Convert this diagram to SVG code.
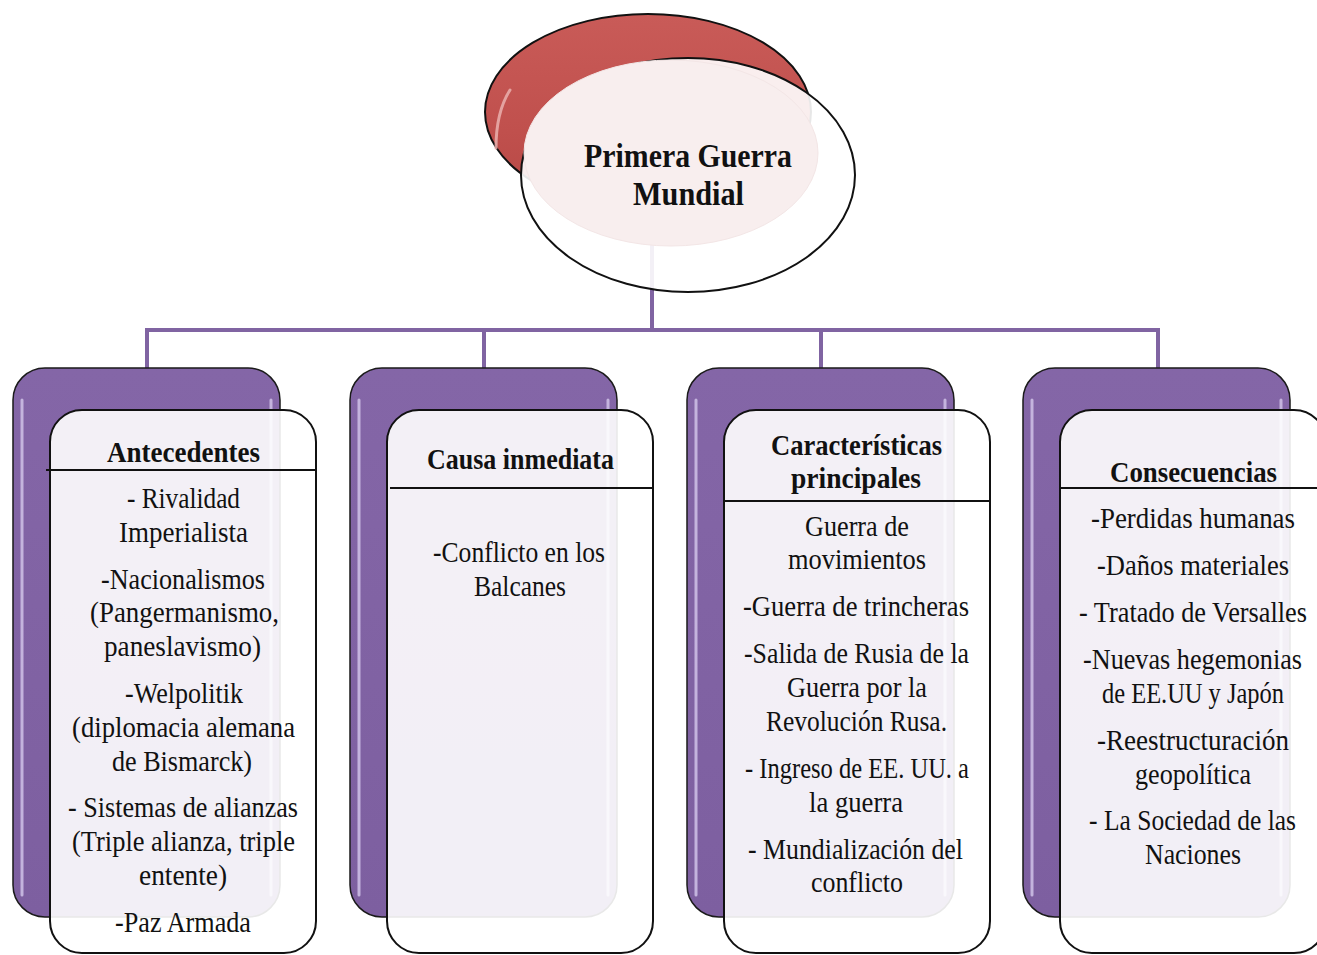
<svg xmlns="http://www.w3.org/2000/svg" width="1317" height="955" viewBox="0 0 1317 955">
<defs>
<linearGradient id="redg" x1="0" y1="0" x2="0" y2="1">
<stop offset="0" stop-color="#c95b58"/>
<stop offset="0.6" stop-color="#c0504d"/>
<stop offset="1" stop-color="#b54744"/>
</linearGradient>
<linearGradient id="purg" x1="0" y1="0" x2="0" y2="1">
<stop offset="0" stop-color="#8466a7"/>
<stop offset="1" stop-color="#7d5fa0"/>
</linearGradient>
<style>
.pur{fill:url(#purg);stroke:#1a1a1a;stroke-width:1.5}
.hl{stroke:#cbbde3;stroke-width:3;stroke-linecap:round;fill:none;opacity:0.9}
.wb{fill:#ffffff;fill-opacity:0.9;stroke:#111;stroke-width:2}
.div{stroke:#111;stroke-width:2}
.con{stroke:#8064a2;stroke-width:4;fill:none}
.t{font-family:"Liberation Serif","DejaVu Serif",serif;font-size:30px;fill:#111}
.h{font-family:"Liberation Serif","DejaVu Serif",serif;font-size:30px;font-weight:bold;fill:#111}
.ttl{font-family:"Liberation Serif","DejaVu Serif",serif;font-size:33px;font-weight:bold;fill:#111}
</style>
</defs>
<rect width="1317" height="955" fill="#ffffff"/>

<g id="root">
<ellipse cx="648" cy="112" rx="163" ry="98" fill="url(#redg)" stroke="#111" stroke-width="2"/>
<path d="M496,148 Q496,112 510,90" stroke="#eab0ae" stroke-width="3" fill="none" stroke-linecap="round" opacity="0.85"/>
</g>

<g id="connectors">
<line class="con" x1="652" y1="200" x2="652" y2="330"/>
<line class="con" x1="145" y1="330" x2="1160" y2="330"/>
<line class="con" x1="147" y1="328" x2="147" y2="369"/>
<line class="con" x1="484" y1="328" x2="484" y2="369"/>
<line class="con" x1="821" y1="328" x2="821" y2="369"/>
<line class="con" x1="1158" y1="328" x2="1158" y2="369"/>
</g>

<g id="title">
<ellipse cx="688" cy="175" rx="167" ry="117" fill="#ffffff" fill-opacity="0.9" stroke="#111" stroke-width="2"/>
<ellipse cx="671" cy="153" rx="147" ry="93" fill="#f8eeee" stroke="#f3e6e6" stroke-width="1"/>
<text class="ttl" x="584" y="167" textLength="208" lengthAdjust="spacingAndGlyphs">Primera Guerra</text>
<text class="ttl" x="633" y="205" textLength="111" lengthAdjust="spacingAndGlyphs">Mundial</text>
</g>

<g id="antecedentes">
<rect class="pur" x="13" y="368" width="267" height="549" rx="32"/>
<line class="hl" x1="22" y1="400" x2="22" y2="895"/>
<line class="hl" x1="271" y1="400" x2="271" y2="895"/>
<rect class="wb" x="50" y="410" width="266" height="543" rx="32"/>
<line class="div" x1="46" y1="470" x2="316" y2="470"/>
<text class="h" x="107" y="462" textLength="153" lengthAdjust="spacingAndGlyphs">Antecedentes</text>
<text class="t" x="127" y="508" textLength="113" lengthAdjust="spacingAndGlyphs">- Rivalidad</text>
<text class="t" x="119" y="542" textLength="129" lengthAdjust="spacingAndGlyphs">Imperialista</text>
<text class="t" x="101" y="589" textLength="164" lengthAdjust="spacingAndGlyphs">-Nacionalismos</text>
<text class="t" x="90" y="622" textLength="189" lengthAdjust="spacingAndGlyphs">(Pangermanismo,</text>
<text class="t" x="104" y="656" textLength="157" lengthAdjust="spacingAndGlyphs">paneslavismo)</text>
<text class="t" x="125" y="703" textLength="118" lengthAdjust="spacingAndGlyphs">-Welpolitik</text>
<text class="t" x="72" y="737" textLength="223" lengthAdjust="spacingAndGlyphs">(diplomacia alemana</text>
<text class="t" x="112" y="771" textLength="140" lengthAdjust="spacingAndGlyphs">de Bismarck)</text>
<text class="t" x="68" y="817" textLength="230" lengthAdjust="spacingAndGlyphs">- Sistemas de alianzas</text>
<text class="t" x="72" y="851" textLength="223" lengthAdjust="spacingAndGlyphs">(Triple alianza, triple</text>
<text class="t" x="139" y="885" textLength="88" lengthAdjust="spacingAndGlyphs">entente)</text>
<text class="t" x="115" y="932" textLength="136" lengthAdjust="spacingAndGlyphs">-Paz Armada</text>
</g>

<g id="causa">
<rect class="pur" x="350" y="368" width="267" height="549" rx="32"/>
<line class="hl" x1="359" y1="400" x2="359" y2="895"/>
<line class="hl" x1="608" y1="400" x2="608" y2="895"/>
<rect class="wb" x="387" y="410" width="266" height="543" rx="32"/>
<line class="div" x1="390" y1="488" x2="653" y2="488"/>
<text class="h" x="427" y="469" textLength="187" lengthAdjust="spacingAndGlyphs">Causa inmediata</text>
<text class="t" x="433" y="562" textLength="172" lengthAdjust="spacingAndGlyphs">-Conflicto en los</text>
<text class="t" x="474" y="596" textLength="92" lengthAdjust="spacingAndGlyphs">Balcanes</text>
</g>

<g id="caracteristicas">
<rect class="pur" x="687" y="368" width="267" height="549" rx="32"/>
<line class="hl" x1="696" y1="400" x2="696" y2="895"/>
<line class="hl" x1="945" y1="400" x2="945" y2="895"/>
<rect class="wb" x="724" y="410" width="266" height="543" rx="32"/>
<line class="div" x1="724" y1="501" x2="990" y2="501"/>
<text class="h" x="771" y="455" textLength="171" lengthAdjust="spacingAndGlyphs">Características</text>
<text class="h" x="791" y="488" textLength="130" lengthAdjust="spacingAndGlyphs">principales</text>
<text class="t" x="805" y="536" textLength="104" lengthAdjust="spacingAndGlyphs">Guerra de</text>
<text class="t" x="788" y="569" textLength="138" lengthAdjust="spacingAndGlyphs">movimientos</text>
<text class="t" x="743" y="616" textLength="226" lengthAdjust="spacingAndGlyphs">-Guerra de trincheras</text>
<text class="t" x="744" y="663" textLength="225" lengthAdjust="spacingAndGlyphs">-Salida de Rusia de la</text>
<text class="t" x="787" y="697" textLength="140" lengthAdjust="spacingAndGlyphs">Guerra por la</text>
<text class="t" x="766" y="731" textLength="181" lengthAdjust="spacingAndGlyphs">Revolución Rusa.</text>
<text class="t" x="745" y="778" textLength="224" lengthAdjust="spacingAndGlyphs">- Ingreso de EE. UU. a</text>
<text class="t" x="809" y="812" textLength="94" lengthAdjust="spacingAndGlyphs">la guerra</text>
<text class="t" x="748" y="859" textLength="215" lengthAdjust="spacingAndGlyphs">- Mundialización del</text>
<text class="t" x="811" y="892" textLength="92" lengthAdjust="spacingAndGlyphs">conflicto</text>
</g>

<g id="consecuencias">
<rect class="pur" x="1023" y="368" width="267" height="549" rx="32"/>
<line class="hl" x1="1032" y1="400" x2="1032" y2="895"/>
<line class="hl" x1="1281" y1="400" x2="1281" y2="895"/>
<rect class="wb" x="1060" y="410" width="266" height="543" rx="32"/>
<line class="div" x1="1060" y1="488" x2="1317" y2="488"/>
<text class="h" x="1110" y="482" textLength="167" lengthAdjust="spacingAndGlyphs">Consecuencias</text>
<text class="t" x="1091" y="528" textLength="204" lengthAdjust="spacingAndGlyphs">-Perdidas humanas</text>
<text class="t" x="1097" y="575" textLength="192" lengthAdjust="spacingAndGlyphs">-Daños materiales</text>
<text class="t" x="1079" y="622" textLength="228" lengthAdjust="spacingAndGlyphs">- Tratado de Versalles</text>
<text class="t" x="1083" y="669" textLength="219" lengthAdjust="spacingAndGlyphs">-Nuevas hegemonias</text>
<text class="t" x="1102" y="703" textLength="182" lengthAdjust="spacingAndGlyphs">de EE.UU y Japón</text>
<text class="t" x="1097" y="750" textLength="192" lengthAdjust="spacingAndGlyphs">-Reestructuración</text>
<text class="t" x="1135" y="784" textLength="116" lengthAdjust="spacingAndGlyphs">geopolítica</text>
<text class="t" x="1089" y="830" textLength="207" lengthAdjust="spacingAndGlyphs">- La Sociedad de las</text>
<text class="t" x="1145" y="864" textLength="96" lengthAdjust="spacingAndGlyphs">Naciones</text>
</g>
</svg>
